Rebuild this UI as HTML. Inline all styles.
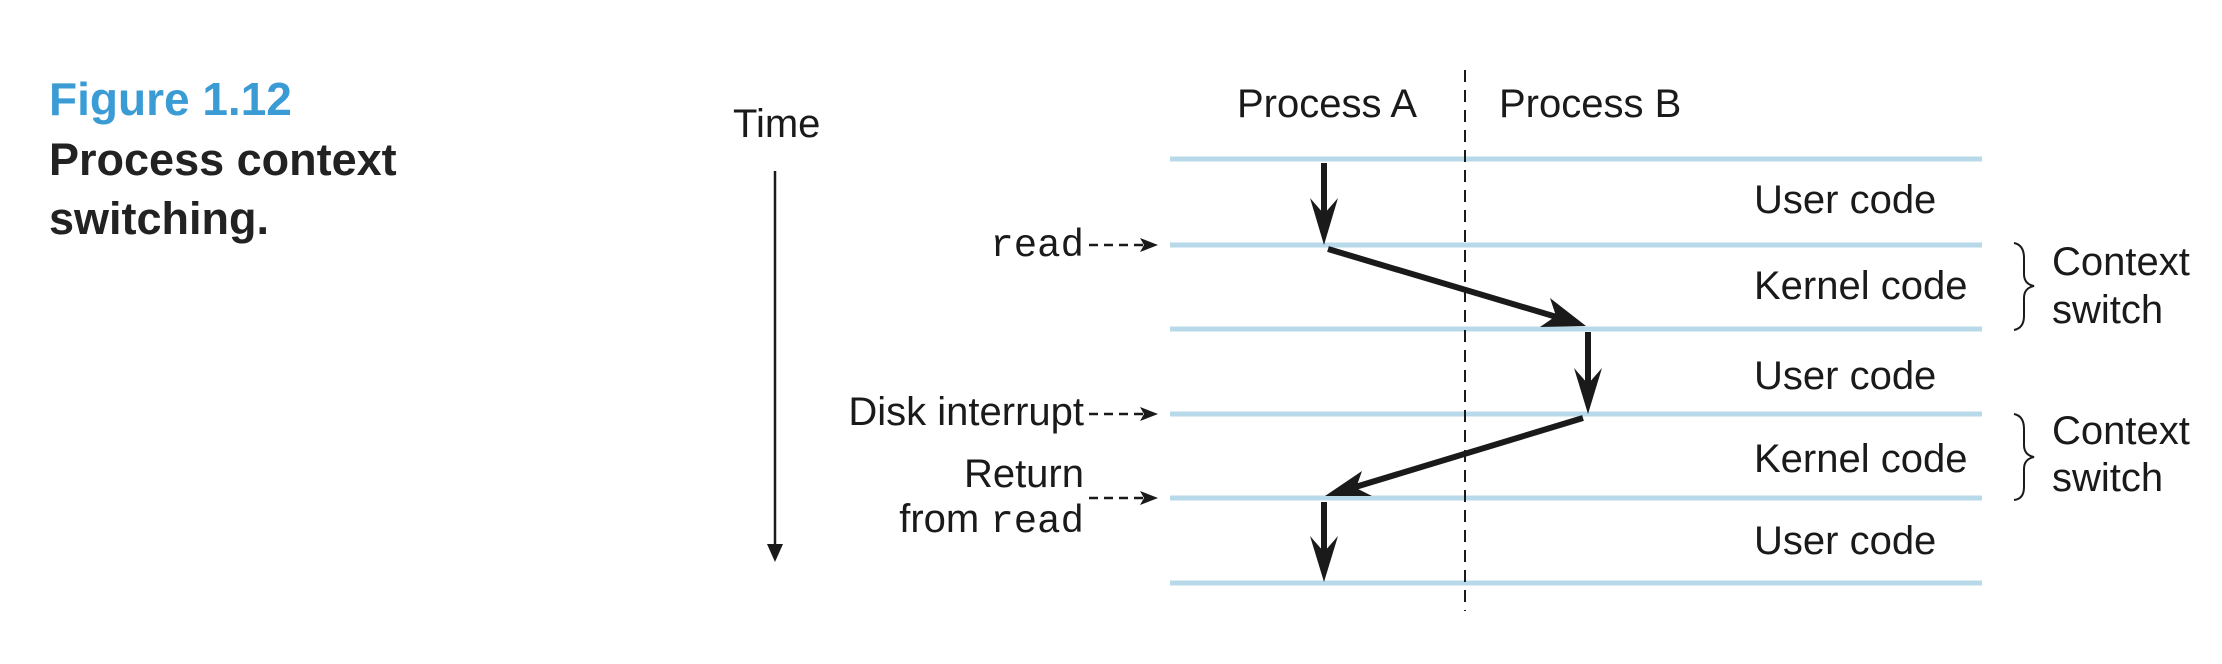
<!DOCTYPE html>
<html><head><meta charset="utf-8"><style>
html,body{margin:0;padding:0;background:#fff;}
svg{display:block;}
text{font-family:"Liberation Sans",sans-serif;fill:#1a1a1a;}
.m{font-family:"Liberation Mono",monospace;}
</style></head><body>
<svg width="2222" height="664" viewBox="0 0 2222 664" xmlns="http://www.w3.org/2000/svg">
<!-- caption -->
<text x="49" y="115" font-size="46" font-weight="bold" style="fill:#3a9bd5">Figure 1.12</text>
<text x="49" y="175" font-size="45" font-weight="bold" style="fill:#222">Process  context</text>
<text x="49" y="234" font-size="45" font-weight="bold" style="fill:#222">switching.</text>

<!-- time -->
<text x="733" y="137" font-size="40">Time</text>
<line x1="775" y1="171" x2="775" y2="548" stroke="#1a1a1a" stroke-width="2.5"/>
<polygon points="767,544 783,544 775,562" fill="#1a1a1a"/>

<!-- blue lines -->
<g stroke="#b7d9ea" stroke-width="5">
<line x1="1170" y1="159" x2="1982" y2="159"/>
<line x1="1170" y1="245" x2="1982" y2="245"/>
<line x1="1170" y1="329" x2="1982" y2="329"/>
<line x1="1170" y1="414" x2="1982" y2="414"/>
<line x1="1170" y1="498" x2="1982" y2="498"/>
<line x1="1170" y1="583" x2="1982" y2="583"/>
</g>
<!-- divider -->
<line x1="1465" y1="70" x2="1465" y2="611" stroke="#1a1a1a" stroke-width="2" stroke-dasharray="12,8"/>

<text x="1237" y="117" font-size="40">Process A</text>
<text x="1499" y="117" font-size="40">Process B</text>

<g font-size="40">
<text x="1754" y="213">User code</text>
<text x="1754" y="299">Kernel code</text>
<text x="1754" y="389">User code</text>
<text x="1754" y="472">Kernel code</text>
<text x="1754" y="554">User code</text>
<text x="2052" y="275">Context</text>
<text x="2052" y="323">switch</text>
<text x="2052" y="444">Context</text>
<text x="2052" y="491">switch</text>
</g>
<!-- braces -->
<g fill="none" stroke="#1a1a1a" stroke-width="2">
<path d="M2014,243 Q2024,245 2024,258 L2024,274 Q2024,284 2034,286 Q2024,288 2024,298 L2024,316 Q2024,328 2014,330"/>
<path d="M2014,414 Q2024,416 2024,429 L2024,445 Q2024,455 2034,457 Q2024,459 2024,469 L2024,487 Q2024,499 2014,500"/>
</g>

<!-- left labels -->
<text class="m" x="1084" y="256" font-size="39" text-anchor="end">read</text>
<text x="1084" y="425" font-size="40" text-anchor="end">Disk interrupt</text>
<text x="1084" y="487" font-size="40" text-anchor="end">Return</text>
<text x="1084" y="532" font-size="40" text-anchor="end">from <tspan class="m" font-size="39">read</tspan></text>

<!-- dashed arrows -->
<g stroke="#1a1a1a" stroke-width="2.5" stroke-dasharray="9,6">
<line x1="1089" y1="245" x2="1148" y2="245"/>
<line x1="1089" y1="414" x2="1148" y2="414"/>
<line x1="1089" y1="498" x2="1148" y2="498"/>
</g>
<g fill="#1a1a1a">
<polygon points="1140,238 1158,245 1140,252 1144,245"/>
<polygon points="1140,407 1158,414 1140,421 1144,414"/>
<polygon points="1140,491 1158,498 1140,505 1144,498"/>
</g>

<!-- process flow arrows -->
<g stroke="#1a1a1a" stroke-width="6" fill="none">
<line x1="1324" y1="163" x2="1324" y2="215"/>
<line x1="1328" y1="249" x2="1560" y2="318"/>
<line x1="1588" y1="332" x2="1588" y2="385"/>
<line x1="1583" y1="418" x2="1352" y2="488"/>
<line x1="1324" y1="502" x2="1324" y2="555"/>
</g>
<g fill="#1a1a1a">
<polygon points="1310,198 1324,214 1338,198 1324,245"/>
<polygon points="1574,368 1588,384 1602,368 1588,414"/>
<polygon points="1310,536 1324,552 1338,536 1324,582"/>
<polygon points="1586,326 1540,327 1556,316 1550,298"/>
<polygon points="1325,496 1362,471 1356,488 1372,496"/>
</g>
</svg>
</body></html>
